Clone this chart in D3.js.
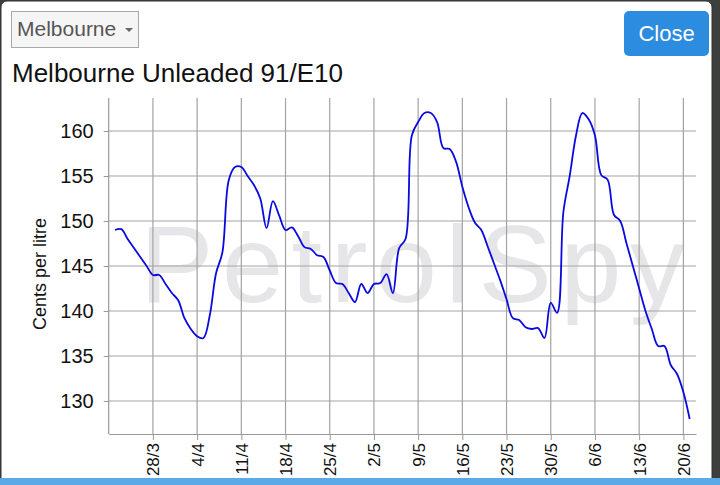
<!DOCTYPE html>
<html>
<head>
<meta charset="utf-8">
<script src="https://cdn.jsdelivr.net/npm/d3@7/dist/d3.min.js"></script>
<style>
  body { margin: 0; background: #3c3f3c; overflow: hidden; }
  text { font-family: "Liberation Sans", Arial, sans-serif; }
</style>
</head>
<body>
<script>
// daily prices from 22/3 (cents per litre)
var startDate = "22/3";
var prices = [
  149.0, 149.1, 148.0, 147.0, 146.0, 145.0, 144.0, 144.0, 143.0, 142.0,
  141.2, 139.2, 138.0, 137.2, 137.0, 139.5, 144.2, 146.5, 154.5, 156.0,
  156.0, 155.0, 154.0, 152.5, 149.2, 152.2, 150.6, 149.0, 149.3, 148.3,
  147.1, 146.9, 146.2, 146.0, 144.5, 143.1, 143.0, 142.0, 141.0, 143.0,
  142.0, 143.0, 143.1, 144.1, 142.0, 147.0, 148.0, 159.5, 161.0, 162.0,
  162.0, 161.0, 158.1, 158.0, 156.6, 153.8, 151.5, 149.8, 149.0, 147.2,
  145.3, 143.4, 141.3, 139.2, 139.0, 138.2, 138.0, 138.1, 137.0, 140.9,
  139.8, 151.0, 155.0, 159.5, 162.0, 161.3, 159.5, 155.1, 154.6, 150.7,
  150.0, 147.5, 145.0, 142.5, 140.0, 138.0, 136.1, 136.1, 134.0, 133.0,
  131.0, 128.0
];
var xTickLabels = ["28/3", "4/4", "11/4", "18/4", "25/4", "2/5", "9/5", "16/5", "23/5", "30/5", "6/6", "13/6", "20/6"];
var yTicks = [130, 135, 140, 145, 150, 155, 160];

var parse = d3.timeParse("%d/%m/%Y");
var fmt = d3.timeFormat("%-d/%-m");
var d0 = parse(startDate + "/2019");
var data = prices.map(function(p, i) { return { date: d3.timeDay.offset(d0, i), price: p }; });
var tickDates = xTickLabels.map(function(l) { return parse(l + "/2019"); });

var svg = d3.select("body").append("svg").attr("width", 720).attr("height", 485);

// modal panel
svg.append("rect").attr("x", 1).attr("y", 1).attr("width", 711).attr("height", 500)
  .attr("rx", 6).attr("fill", "#fff").attr("stroke", "#333");
svg.append("rect").attr("x", 0).attr("y", 478).attr("width", 720).attr("height", 7).attr("fill", "#5ca9e8");

// dropdown
svg.append("rect").attr("x", 11.5).attr("y", 11.5).attr("width", 127).attr("height", 36)
  .attr("fill", "#f5f5f5").attr("stroke", "#a8a8a8");
svg.append("text").attr("x", 17).attr("y", 36).attr("font-size", 21).attr("fill", "#555").text("Melbourne");
svg.append("path").attr("d", "M125,28 L133,28 L129,32 Z").attr("fill", "#666");

// close button
svg.append("rect").attr("x", 624).attr("y", 11).attr("width", 85).attr("height", 45)
  .attr("rx", 5).attr("fill", "#2b8ce0");
svg.append("text").attr("x", 666.5).attr("y", 41).attr("text-anchor", "middle")
  .attr("font-size", 22).attr("fill", "#fff").text("Close");

// title
svg.append("text").attr("x", 12).attr("y", 82).attr("font-size", 26).attr("fill", "#111")
  .text("Melbourne Unleaded 91/E10");

// chart area
var plotL = 108.7, plotR = 696, plotT = 98, plotB = 434;
var x = d3.scaleTime()
  .domain([d3.timeDay.offset(d0, -1), d3.timeDay.offset(data[data.length - 1].date, 1)])
  .range([plotL, plotR]);
var y = d3.scaleLinear().domain([126.33, 163.67]).range([plotB, plotT]);

// watermark
svg.append("text").attr("x", 140).attr("y", 302).attr("font-size", 110)
  .attr("fill", "#e6e6e8").attr("textLength", 545).attr("lengthAdjust", "spacing")
  .text("PetrolSpy");

// grid
var grid = svg.append("g").attr("stroke", "#a3a3a3").attr("stroke-width", 1.2);
grid.selectAll(".v").data(tickDates).enter().append("line")
  .attr("x1", function(d) { return x(d); }).attr("x2", function(d) { return x(d); })
  .attr("y1", plotT).attr("y2", plotB);
grid.selectAll(".h").data(yTicks).enter().append("line")
  .attr("x1", plotL).attr("x2", plotR)
  .attr("y1", function(d) { return y(d); }).attr("y2", function(d) { return y(d); });

// axes
var xAxis = svg.append("g").attr("transform", "translate(0," + plotB + ")")
  .call(d3.axisBottom(x).tickValues(tickDates).tickFormat(fmt).tickSize(6).tickSizeOuter(0));
xAxis.selectAll("text")
  .attr("transform", "rotate(-90)").attr("text-anchor", "end")
  .attr("x", -9).attr("y", 0).attr("dy", "0.35em")
  .attr("font-size", 17).attr("fill", "#111");

var yAxis = svg.append("g").attr("transform", "translate(" + plotL + ",0)")
  .call(d3.axisLeft(y).tickValues(yTicks).tickSize(5).tickPadding(10).tickSizeOuter(0));
yAxis.selectAll("text").attr("font-size", 20).attr("fill", "#111");

[xAxis, yAxis].forEach(function(a) {
  a.select(".domain").attr("stroke", "#999").attr("stroke-width", 1.2);
  a.selectAll(".tick line").attr("stroke", "#999");
  a.attr("font-family", null);
});
yAxis.select(".domain").attr("d", "M0," + plotT + "V" + plotB);

svg.append("text").attr("transform", "translate(46,274) rotate(-90)")
  .attr("text-anchor", "middle").attr("font-size", 18).attr("fill", "#111")
  .text("Cents per litre");

// price line
var line = d3.line()
  .x(function(d) { return x(d.date); })
  .y(function(d) { return y(d.price); })
  .curve(d3.curveCatmullRom.alpha(0.5));
svg.append("path").datum(data).attr("d", line)
  .attr("fill", "none").attr("stroke", "#0a0ae0").attr("stroke-width", 1.8);
</script>
</body>
</html>
